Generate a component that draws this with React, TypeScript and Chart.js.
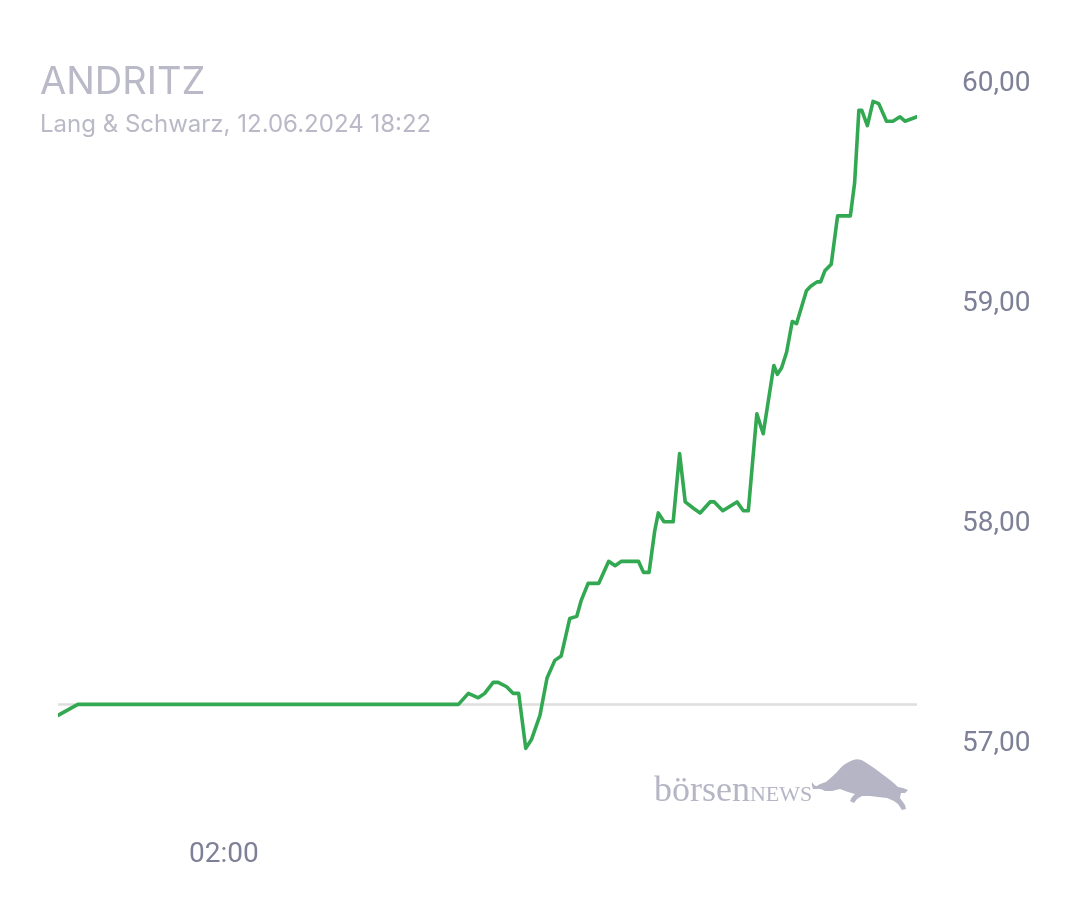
import React, { useEffect, useRef } from "react";
import { Chart, registerables } from "chart.js";

Chart.register(...registerables);

// Minutes relative to 00:00 on 12.06.2024 (negative = previous evening)
const timesMin: number[] = [
  -114, -86, 451, 465, 479, 488, 500, 507, 519, 528, 536, 546, 554, 566, 576, 587, 596,
  608, 618, 624, 634, 649, 663, 672, 681, 705, 712, 720, 728, 733, 741, 754, 763, 771,
  783, 792, 806, 812, 824, 844, 853, 860, 872, 881, 896, 901, 907, 914, 922, 928, 942,
  948, 957, 962, 968, 977, 986, 1004, 1010, 1016, 1020, 1028, 1036, 1044, 1055, 1064,
  1074, 1081, 1098,
];

const prices: number[] = [
  57.13, 57.18, 57.18, 57.23, 57.21, 57.23, 57.28, 57.28, 57.26, 57.23, 57.23, 56.98,
  57.02, 57.13, 57.3, 57.38, 57.4, 57.57, 57.58, 57.65, 57.73, 57.73, 57.83, 57.81, 57.83,
  57.83, 57.78, 57.78, 57.97, 58.05, 58.01, 58.01, 58.32, 58.1, 58.07, 58.05, 58.1, 58.1,
  58.06, 58.1, 58.06, 58.06, 58.5, 58.41, 58.72, 58.68, 58.71, 58.78, 58.92, 58.91, 59.06,
  59.08, 59.1, 59.1, 59.15, 59.18, 59.4, 59.4, 59.55, 59.88, 59.88, 59.81, 59.92, 59.91,
  59.83, 59.83, 59.85, 59.83, 59.85,
];

const referencePrice = 57.18;
const xTickMinutes: number[] = [120];
const yTickValues: number[] = [57, 58, 59, 60];

const TITLE = "ANDRITZ";
const SUBTITLE = "Lang & Schwarz, 12.06.2024 18:22";

const LABEL_COLOR = "#7e8097";
const TITLE_COLOR = "#b9b9c7";
const LOGO_COLOR = "#b5b5c5";

function fmtTime(m: number): string {
  const mm = ((m % 1440) + 1440) % 1440;
  const h = Math.floor(mm / 60);
  const mi = Math.round(mm % 60);
  return String(h).padStart(2, "0") + ":" + String(mi).padStart(2, "0");
}

export default function App() {
  const canvasRef = useRef<HTMLCanvasElement | null>(null);

  useEffect(() => {
    const canvas = canvasRef.current;
    if (!canvas) return;
    const lineData = timesMin.map((t, i) => ({ x: t, y: prices[i] }));
    const refData = [
      { x: timesMin[0], y: referencePrice },
      { x: timesMin[timesMin.length - 1], y: referencePrice },
    ];
    const chart = new Chart(canvas, {
      type: "line",
      data: {
        datasets: [
          {
            data: lineData,
            borderColor: "#33a852",
            borderWidth: 3.6,
            pointRadius: 0,
            tension: 0,
            borderJoinStyle: "round",
            borderCapStyle: "round",
            fill: false,
          },
          {
            data: refData,
            borderColor: "#dedede",
            borderWidth: 2.5,
            pointRadius: 0,
            tension: 0,
            fill: false,
          },
        ],
      },
      options: {
        responsive: false,
        animation: false,
        devicePixelRatio: 1,
        layout: { padding: { left: 58, top: 57, right: 0, bottom: 0 } },
        plugins: {
          legend: { display: false },
          title: { display: false },
          tooltip: { enabled: false },
        },
        scales: {
          x: {
            type: "linear",
            min: timesMin[0],
            max: timesMin[timesMin.length - 1],
            grid: { display: false, drawTicks: false },
            border: { display: false },
            ticks: {
              padding: 50,
              autoSkip: false,
              maxRotation: 0,
              color: LABEL_COLOR,
              font: { family: "Roboto", size: 28 },
              callback: (v: any) => fmtTime(Number(v)),
            },
            afterBuildTicks: (s: any) => {
              s.ticks = xTickMinutes.map((v) => ({ value: v }));
            },
            afterFit: (s: any) => {
              s.height = 112;
            },
          },
          y: {
            type: "linear",
            position: "right",
            min: 56.8,
            max: 60.1,
            grid: { display: false, drawTicks: false },
            border: { display: false },
            ticks: {
              padding: 45,
              color: LABEL_COLOR,
              font: { family: "Roboto", size: 28 },
              callback: (v: any) => Number(v).toFixed(2).replace(".", ","),
            },
            afterBuildTicks: (s: any) => {
              s.ticks = yTickValues.map((v) => ({ value: v }));
            },
            afterFit: (s: any) => {
              s.width = 163;
            },
          },
        },
      },
    });
    return () => chart.destroy();
  }, []);

  return (
    <div
      style={{
        position: "absolute",
        left: 0,
        top: 0,
        width: 1080,
        height: 900,
        background: "#ffffff",
        overflow: "hidden",
      }}
    >
      <canvas ref={canvasRef} width={1080} height={900} style={{ position: "absolute", left: 0, top: 0 }} />
      <div
        style={{
          position: "absolute",
          left: 40,
          top: 61,
          fontFamily: "Inter",
          fontSize: 38,
          lineHeight: "38px",
          color: TITLE_COLOR,
          whiteSpace: "nowrap",
        }}
      >
        {TITLE}
      </div>
      <div
        style={{
          position: "absolute",
          left: 40,
          top: 112,
          fontFamily: "Inter",
          fontSize: 24,
          lineHeight: "24px",
          color: TITLE_COLOR,
          whiteSpace: "nowrap",
        }}
      >
        {SUBTITLE}
      </div>
      <div
        style={{
          position: "absolute",
          left: 654,
          top: 771,
          fontFamily: "'Liberation Serif'",
          fontSize: 36,
          lineHeight: "36px",
          color: LOGO_COLOR,
          whiteSpace: "nowrap",
        }}
      >
        börsen<span style={{ fontSize: 22 }}>NEWS</span>
      </div>
      <svg
        style={{ position: "absolute", left: 810, top: 755 }}
        width={100}
        height={58}
        viewBox="0 0 100 58"
      >
        <path
          d="M3 34 Q8 29 16 27 Q22 22 27 17 Q34 8 43 5 Q50 3 55 7 Q66 14 72 19 Q82 26 88 32 L93 33 L98 35 L95 38 L91 38 L90 43 L95 50 L96 54 L92 55 L88 49 L84 46 L77 43 L68 42 L60 41 L52 41 L47 44 L44 48 L40 46 L42 42 L45 39 L38 37 L30 34 L22 36 L15 36 Q10 33 6 34 Z"
          fill={LOGO_COLOR}
        />
        <path d="M3 34 Q1 30 2 27 Q4 31 8 32 Z" fill={LOGO_COLOR} />
      </svg>
    </div>
  );
}
